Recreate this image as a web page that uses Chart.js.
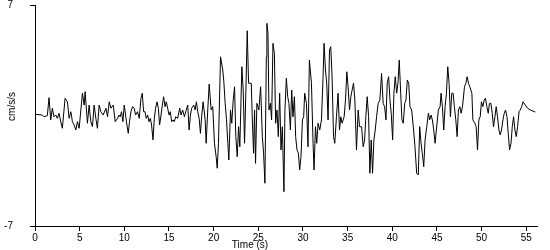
<!DOCTYPE html>
<html><head><meta charset="utf-8">
<script src="https://cdn.jsdelivr.net/npm/chart.js@4"></script>
<style>html,body{margin:0;padding:0;background:#fff}</style>
</head><body>
<canvas id="c" width="550" height="250"></canvas>
<script>
const timeSec = [0.00,0.82,1.01,1.38,1.57,1.76,1.94,2.13,2.32,2.50,2.69,2.88,3.06,3.37,3.63,3.82,4.01,4.19,4.38,4.57,4.75,4.94,5.31,5.50,5.61,5.87,6.06,6.25,6.43,6.62,6.81,6.99,7.18,7.37,7.63,7.94,8.12,8.31,8.50,8.76,8.98,9.24,9.40,9.54,9.69,9.84,9.99,10.14,10.29,10.44,10.58,10.74,10.92,11.11,11.26,11.48,11.67,11.86,12.01,12.16,12.31,12.46,12.61,12.76,12.91,13.05,13.21,13.36,13.50,13.66,13.81,13.95,14.11,14.26,14.40,14.56,14.70,14.85,15.01,15.15,15.30,15.46,15.60,15.75,15.97,16.20,16.35,16.53,16.73,16.87,17.10,17.25,17.40,17.54,17.77,17.93,18.07,18.22,18.38,18.52,18.67,18.82,19.05,19.16,19.34,19.50,19.72,19.90,20.09,20.28,20.40,20.54,20.77,21.02,21.14,21.29,21.44,21.59,21.70,21.89,22.03,22.19,22.34,22.48,22.64,22.79,22.93,23.16,23.31,23.46,23.61,23.76,23.91,24.05,24.21,24.32,24.47,24.58,24.69,24.84,25.06,25.26,25.45,25.59,25.74,25.90,25.96,26.08,26.19,26.35,26.49,26.64,26.80,26.94,27.09,27.24,27.39,27.54,27.69,27.87,27.98,28.14,28.29,28.43,28.59,28.74,28.88,29.04,29.18,29.33,29.49,29.63,29.78,29.94,30.08,30.19,30.39,30.56,30.72,30.95,31.13,31.24,31.40,31.54,31.69,31.88,32.07,32.25,32.36,32.52,32.66,32.81,32.97,33.11,33.26,33.42,33.56,33.75,33.93,34.09,34.23,34.38,34.61,34.76,34.91,35.05,35.21,35.36,35.50,35.66,35.81,35.99,36.18,36.33,36.56,36.74,36.90,37.04,37.19,37.35,37.49,37.64,37.79,37.94,38.09,38.24,38.42,38.61,38.80,38.98,39.14,39.29,39.43,39.59,39.74,39.88,40.04,40.18,40.33,40.49,40.63,40.78,40.94,41.08,41.23,41.39,41.53,41.68,41.84,41.98,42.17,42.35,42.54,42.73,42.91,43.07,43.22,43.36,43.52,43.67,43.86,44.04,44.19,44.34,44.49,44.64,44.79,44.93,45.16,45.35,45.46,45.61,45.76,45.91,46.06,46.21,46.36,46.51,46.66,46.81,46.95,47.11,47.26,47.40,47.56,47.71,47.86,48.08,48.24,48.38,48.53,48.68,48.91,49.02,49.24,49.39,49.54,49.69,49.84,49.98,50.14,50.29,50.43,50.59,50.74,50.88,51.04,51.19,51.33,51.49,51.63,51.78,51.94,52.08,52.23,52.39,52.53,52.68,52.84,52.98,53.13,53.29,53.43,53.58,53.73,53.88,54.03,54.19,54.33,54.48,54.64,54.89,55.15,55.45,55.75,56.01];
const accel = [0.08,0.03,-0.08,-0.01,1.13,-0.28,0.46,-0.08,0.03,-0.18,0.14,-0.39,-0.81,1.09,0.87,-0.18,0.24,-0.39,-0.60,-0.92,-0.39,-0.81,1.41,0.66,1.51,-0.49,0.66,-0.39,-0.71,0.66,-0.18,-0.81,0.66,0.24,0.03,0.46,-0.08,0.87,0.46,0.66,-0.39,-0.18,0.03,-0.08,0.24,-0.39,0.66,0.03,-0.60,-1.13,-0.39,0.24,0.56,0.46,0.03,0.24,-0.18,1.09,1.41,0.24,0.24,-0.18,0.03,-0.39,-0.18,-0.60,-1.55,-0.18,0.46,0.87,0.46,-0.60,0.03,0.66,1.19,0.56,0.87,0.46,0.03,0.24,-0.39,-0.28,-0.39,-0.08,-0.18,0.46,0.03,0.35,-0.08,0.24,0.66,-0.92,0.03,0.46,0.66,0.35,0.87,0.24,-0.18,-1.13,0.03,0.87,-0.28,-1.76,0.35,1.99,0.35,0.56,-1.76,-2.61,-3.34,-1.76,3.72,2.88,2.14,0.77,-0.28,-1.76,-2.82,0.35,-0.49,0.98,1.82,-1.34,-2.61,-0.71,-1.98,3.09,1.61,-1.76,1.61,5.37,2.04,2.04,2.04,-0.08,-2.39,0.35,-3.03,0.77,0.35,1.82,-1.34,-2.39,-4.29,3.72,5.84,5.21,0.35,0.77,-0.28,4.57,3.94,-0.49,0.35,-1.34,1.41,-2.18,-0.71,-4.83,0.35,2.36,1.19,0.77,-0.92,1.61,-0.08,1.19,-1.34,-2.18,-2.39,-3.45,-2.61,-0.28,-0.08,1.41,0.77,-1.98,3.51,2.04,-1.76,-3.45,-0.71,-1.76,-0.49,-0.92,-0.28,2.46,4.57,2.88,2.04,-0.28,4.15,4.36,2.46,-1.34,-1.76,-0.08,1.41,-0.92,-0.08,-0.49,-0.08,0.98,2.77,1.82,0.35,1.19,1.61,2.04,0.98,-2.18,0.35,-0.71,-0.71,-1.98,-1.55,-0.08,1.19,-0.08,-3.66,-1.55,-3.66,-1.55,-0.92,-0.08,0.77,0.98,2.67,0.77,0.56,-0.28,2.04,2.46,0.98,0.14,-1.55,1.41,2.46,1.41,2.04,3.51,1.41,-0.28,-0.49,0.77,0.98,2.25,2.04,0.56,0.35,-0.71,-1.98,-3.66,-3.77,-0.71,-1.76,-2.39,-3.24,-1.55,-0.71,0.14,-0.28,0.03,-0.28,-0.92,-1.76,-0.92,0.35,0.56,1.41,0.56,-0.92,0.56,1.41,3.09,2.04,-0.08,1.41,1.41,0.56,-0.28,-1.34,0.35,0.56,0.14,0.56,1.82,2.04,2.46,2.04,1.82,1.41,-0.28,-0.49,-0.71,-2.18,-0.28,-0.08,0.87,0.56,0.98,1.09,0.56,0.14,0.77,0.77,0.14,-0.71,-0.08,0.56,-0.08,-0.92,-1.23,-0.92,-0.28,0.14,0.35,-0.08,-1.13,-2.18,-1.76,-0.71,-0.08,-0.92,-1.34,-0.71,0.24,0.35,0.56,0.87,0.66,0.46,0.35,0.28,0.22];
const xTicks = [0,5,10,15,20,25,30,35,40,45,50,55];
const yTicks = [-7,7];
const xTitle = 'Time (s)';
const yTitle = 'cm/s/s';

const FONT = 'Liberation Sans';
const titlePlugin = {
  id: 'axisTitles',
  afterDraw(chart) {
    const ctx = chart.ctx;
    ctx.save();
    ctx.fillStyle = '#000';
    ctx.font = '10px "' + FONT + '"';
    ctx.textAlign = 'center';
    ctx.textBaseline = 'middle';
    ctx.fillText(xTitle, 250, 245);
    ctx.translate(12.5, 106.5);
    ctx.rotate(-Math.PI / 2);
    ctx.fillText(yTitle, 0, 0);
    ctx.restore();
  }
};

new Chart(document.getElementById('c'), {
  type: 'line',
  data: {
    datasets: [{
      data: timeSec.map((t, i) => ({x: t, y: accel[i]})),
      borderColor: '#000',
      borderWidth: 1,
      pointRadius: 0,
      tension: 0,
      fill: false
    }]
  },
  options: {
    responsive: false,
    animation: false,
    devicePixelRatio: 1,
    layout: {padding: {top: 5, right: 13, left: 0, bottom: 0}},
    plugins: {legend: {display: false}, tooltip: {enabled: false}},
    scales: {
      x: {
        type: 'linear', min: 0, max: 56.2,
        afterBuildTicks: s => { s.ticks = xTicks.map(v => ({value: v})); },
        afterFit: s => { s.height = 24; s.paddingRight = 0; s.paddingLeft = 0; },
        grid: {drawOnChartArea: false, drawTicks: true, tickLength: 5, color: '#000', tickColor: '#000'},
        border: {display: true, color: '#000', width: 1},
        ticks: {color: '#000', font: {family: FONT, size: 10}, padding: 1, maxRotation: 0, autoSkip: false}
      },
      y: {
        type: 'linear', min: -7, max: 7,
        afterBuildTicks: s => { s.ticks = yTicks.map(v => ({value: v})); },
        afterFit: s => { s.width = 35; s.paddingTop = 0; s.paddingBottom = 0; },
        grid: {drawOnChartArea: false, drawTicks: true, tickLength: 5, color: '#000', tickColor: '#000'},
        border: {display: true, color: '#000', width: 1},
        ticks: {color: '#000', font: {family: FONT, size: 10}, padding: 17, autoSkip: false}
      }
    }
  },
  plugins: [titlePlugin]
});
</script>
</body></html>
